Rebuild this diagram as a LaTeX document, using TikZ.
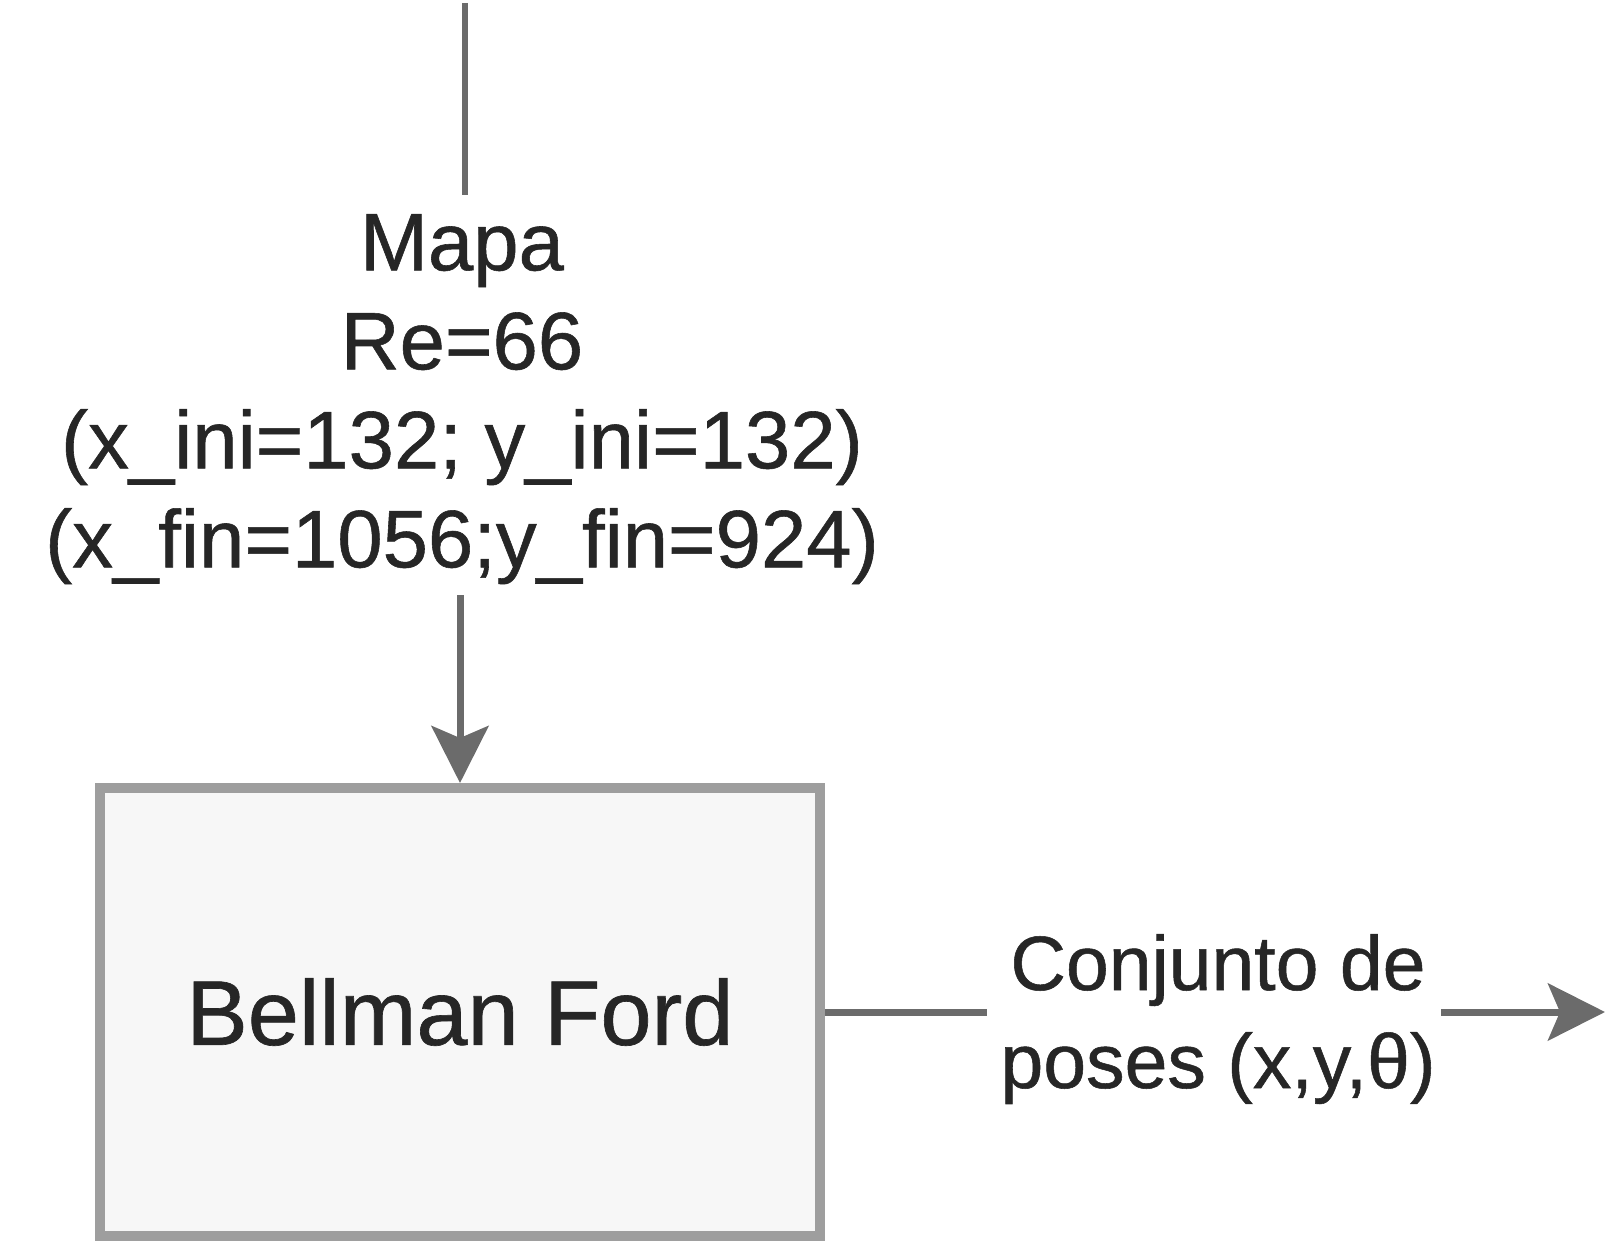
\documentclass[tikz,border=0pt]{standalone}
\usepackage{fontspec}
\setmainfont{Liberation Sans}[FakeBold=0.7]
\usetikzlibrary{arrows.meta}
\definecolor{linegray}{HTML}{6B6B6B}
\definecolor{boxborder}{HTML}{9E9E9E}
\definecolor{boxfill}{HTML}{F7F7F7}
\definecolor{txt}{HTML}{262626}
\tikzset{
  conn/.style={draw=linegray, line width=7pt},
  bigarrow/.style={-{Stealth[length=57pt,width=57pt,inset=12pt]}},
  procbox/.style={draw=boxborder, fill=boxfill, line width=10pt, rectangle,
    minimum width=720pt, minimum height=448pt, inner sep=0pt, text=txt,
    font=\fontsize{92}{110}\selectfont},
  lbl/.style={align=center, inner sep=0pt, text=txt}
}
\begin{document}
\begin{tikzpicture}[x=1pt,y=-1pt]
\useasboundingbox (0,0) rectangle (1606,1244);
\node[procbox] (bf) at (460,1012) {Bellman Ford};
\node[lbl, anchor=north, font=\fontsize{81.5}{99}\selectfont] (map) at (462,214)
  {Mapa\\Re=66\\(x\_ini=132; y\_ini=132)\\(x\_fin=1056;y\_fin=924)};
\node[lbl, anchor=north, font=\fontsize{77}{98}\selectfont] (out) at (1218,934)
  {Conjunto de\\poses (x,y,θ)};
\coordinate (top) at (465,3);
\coordinate (topend) at (465,195);
\coordinate (arrstart) at (460,595);
\coordinate (o1) at (987,1012);
\coordinate (o2) at (1441,1012);
\coordinate (o3) at (1605,1012);
\draw[conn, line width=6pt] (top) -- (topend);
\draw[conn, bigarrow, fill=linegray] (arrstart) -- (bf.north);
\draw[conn] (bf.east) -- (o1);
\draw[conn, bigarrow, fill=linegray] (o2) -- (o3);
\end{tikzpicture}
\end{document}
